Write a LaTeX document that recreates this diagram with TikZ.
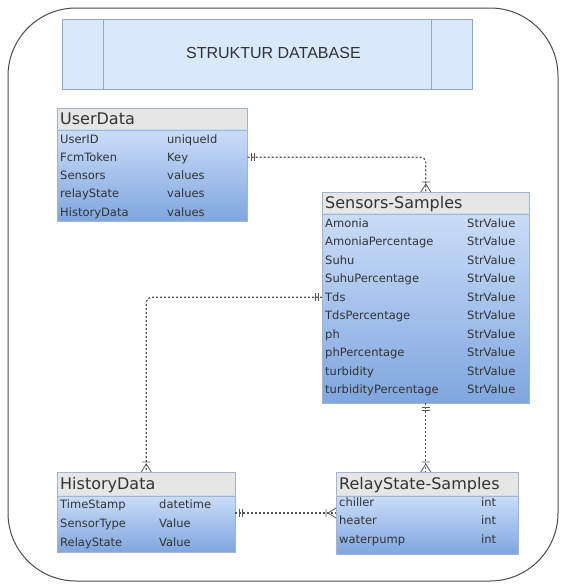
\documentclass[tikz,border=0pt]{standalone}
\usepackage{fontspec}
\setmainfont{DejaVu Sans}
\newfontfamily\titlefont{Liberation Sans}
\usepackage{tikz}
\usetikzlibrary{calc}

\definecolor{titlefill}{HTML}{DAE8FC}
\definecolor{titledraw}{HTML}{8FA8CB}
\definecolor{headfill}{HTML}{E6E6E6}
\definecolor{rowtop}{HTML}{CADDF8}
\definecolor{rowbot}{HTML}{7FA6DF}
\definecolor{tbldraw}{HTML}{A3B5CE}
\definecolor{txt}{HTML}{333333}
\definecolor{linkcol}{HTML}{555555}

\tikzset{
  titlebox/.style={draw=titledraw, fill=titlefill, line width=0.8pt, text=txt,
    font=\titlefont\fontsize{16}{16}\selectfont},
  tblhead/.style={draw=tbldraw, fill=headfill, line width=0.6pt, anchor=north west},
  tblbody/.style={draw=tbldraw, top color=rowtop, bottom color=rowbot, line width=0.6pt, anchor=north west},
  headtxt/.style={anchor=base west, inner sep=0pt, text=txt, font=\fontsize{16}{16}\selectfont},
  fieldtxt/.style={anchor=base west, inner sep=0pt, text=txt, font=\fontsize{11.5}{13}\selectfont},
  link/.style={draw=linkcol, dash pattern=on 2pt off 2pt, line width=1.2pt, rounded corners=5pt},
  erbar/.style={draw=linkcol, line width=0.8pt},
  onlyone/.pic={\draw[erbar] (4,-4) -- (4,4) (7,-4) -- (7,4);},
  manyone/.pic={\draw[erbar] (0,-5) -- (8,0) -- (0,5) (10,-4) -- (10,4);},
}

\begin{document}
\begin{tikzpicture}[x=1pt,y=-1pt]
\useasboundingbox (0,0) rectangle (566,587);
\fill[white] (0,0) rectangle (566,587);

% frame and title
\draw[gray!60!black, line width=1pt, rounded corners=68pt] (8,8) rectangle (558,581);
\node[titlebox, anchor=north west, minimum width=410pt, minimum height=70pt] (title) at (62,19) {\hspace*{12pt}\raisebox{3pt}{STRUKTUR DATABASE}};
\draw[titledraw, line width=0.8pt] ($(title.north west)+(41,0)$) -- ($(title.south west)+(41,0)$);
\draw[titledraw, line width=0.8pt] ($(title.north east)+(-41,0)$) -- ($(title.south east)+(-41,0)$);

% UserData
\node[tblhead, minimum width=190pt, minimum height=21pt] (userhead) at (57,108) {};
\node[tblbody, minimum width=190pt, minimum height=91pt] (userbody) at (userhead.south west) {};
\node[headtxt] (usertitle) at (60,124) {UserData};
\foreach \f/\v [count=\i] in {UserID/uniqueId, FcmToken/Key, Sensors/values, relayState/values, HistoryData/values} {
  \coordinate (userr\i) at (57,{139+18.3*(\i-1)});
  \node[fieldtxt] (userf\i) at (60,{143+18.3*(\i-1)}) {\f};
  \node[fieldtxt] (userv\i) at (167,{143+18.3*(\i-1)}) {\v};
}

% Sensors-Samples
\node[tblhead, minimum width=207pt, minimum height=21pt] (sensorhead) at (322,192) {};
\node[tblbody, minimum width=207pt, minimum height=189pt] (sensorbody) at (sensorhead.south west) {};
\node[headtxt] (sensortitle) at (325,208) {Sensors-Samples};
\foreach \f [count=\i] in {Amonia, AmoniaPercentage, Suhu, SuhuPercentage, Tds, TdsPercentage, ph, phPercentage, turbidity, turbidityPercentage} {
  \coordinate (sensorr\i) at (322,{223+18.55*(\i-1)});
  \node[fieldtxt] (sensorf\i) at (325,{227+18.55*(\i-1)}) {\f};
  \node[fieldtxt] (sensorv\i) at (467,{227+18.55*(\i-1)}) {StrValue};
}

% HistoryData
\node[tblhead, minimum width=178pt, minimum height=23pt] (historyhead) at (57,472) {};
\node[tblbody, minimum width=178pt, minimum height=56pt] (historybody) at (historyhead.south west) {};
\node[headtxt] (historytitle) at (60,489) {HistoryData};
\foreach \f/\v [count=\i] in {TimeStamp/datetime, SensorType/Value, RelayState/Value} {
  \node[fieldtxt] (historyf\i) at (60,{508+19*(\i-1)}) {\f};
  \node[fieldtxt] (historyv\i) at (159,{508+19*(\i-1)}) {\v};
}
\coordinate (historylink) at (235,513);

% RelayState-Samples
\node[tblhead, minimum width=182pt, minimum height=23pt] (relayhead) at (336,472) {};
\node[tblbody, minimum width=182pt, minimum height=58pt] (relaybody) at (relayhead.south west) {};
\node[headtxt] (relaytitle) at (339,489) {RelayState-Samples};
\foreach \f [count=\i] in {chiller, heater, waterpump} {
  \node[fieldtxt] (relayf\i) at (339,{506+18.5*(\i-1)}) {\f};
  \node[fieldtxt] (relayv\i) at (481,{506+18.5*(\i-1)}) {int};
}

% relations
\draw[link] (userr2 -| userbody.east) -| (sensorhead.north);
\pic[rotate=0] at (userr2 -| userbody.east) {onlyone};
\pic[rotate=90] at (sensorhead.north) {manyone};

\draw[link] (sensorr5) -| (historyhead.north);
\pic[rotate=180] at (sensorr5) {onlyone};
\pic[rotate=90] at (historyhead.north) {manyone};

\draw[link] (sensorbody.south) -- (sensorbody.south |- relayhead.north);
\pic[rotate=-90] at (sensorbody.south) {onlyone};
\pic[rotate=90] at (sensorbody.south |- relayhead.north) {manyone};

\draw[link] (historylink) -- (historylink -| relaybody.west);
\pic[rotate=0] at (historylink) {onlyone};
\pic[rotate=180] at (historylink -| relaybody.west) {manyone};
\end{tikzpicture}
\end{document}
